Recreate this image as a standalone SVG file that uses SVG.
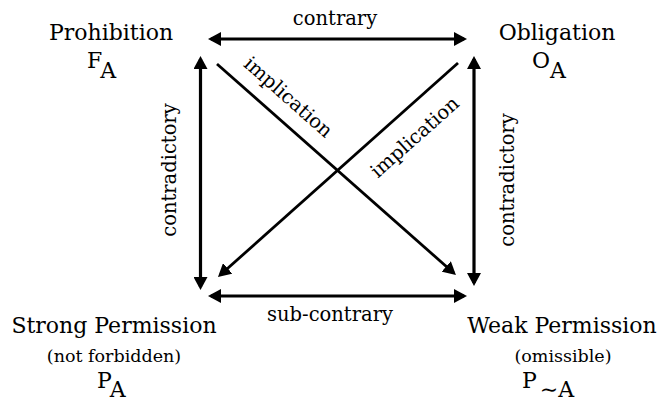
<svg xmlns="http://www.w3.org/2000/svg" width="660" height="400" viewBox="0 0 660 400">
<style>
text{font-family:"DejaVu Serif","Liberation Serif",serif;fill:#000}
.big{font-size:22px}
.mid{font-size:19.5px}
.sm{font-size:17.5px}
.c{stroke:#000;stroke-width:3.2;fill:none}
.d{stroke:#000;stroke-width:2.8;fill:none}
</style>
<defs>
<marker id="ah" viewBox="0 0 13 14" refX="10" refY="7" markerWidth="13" markerHeight="14" markerUnits="userSpaceOnUse" orient="auto-start-reverse"><path d="M0,0L13,7L0,14Z" fill="#000"/></marker>
</defs>
<rect width="660" height="400" fill="#fff"/>
<g id="connectors">
<line class="c" x1="211" y1="39" x2="464" y2="39" marker-start="url(#ah)" marker-end="url(#ah)"/>
<line class="c" x1="211" y1="296" x2="464" y2="296" marker-start="url(#ah)" marker-end="url(#ah)"/>
<line class="c" x1="200.5" y1="59" x2="200.5" y2="287" marker-start="url(#ah)" marker-end="url(#ah)"/>
<line class="c" x1="474" y1="59" x2="474" y2="283" marker-start="url(#ah)" marker-end="url(#ah)"/>
<line class="d" x1="217" y1="64" x2="453.7" y2="273" marker-end="url(#ah)"/>
<line class="d" x1="458" y1="63" x2="220.2" y2="275" marker-end="url(#ah)"/>
<text class="mid" x="335" y="25" text-anchor="middle">contrary</text>
<text class="mid" x="330" y="320.5" text-anchor="middle">sub-contrary</text>
<text class="mid" transform="translate(176,170) rotate(-90)" text-anchor="middle">contradictory</text>
<text class="mid" transform="translate(514,180) rotate(-90)" text-anchor="middle">contradictory</text>
<text class="mid" transform="translate(284,102) rotate(41.4)" text-anchor="middle">implication</text>
<text class="mid" transform="translate(419,142) rotate(-41.6)" text-anchor="middle">implication</text>
</g>
<g id="prohibition">
<text class="big" x="111" y="40" text-anchor="middle">Prohibition</text>
<text class="big" x="87" y="68">F<tspan dy="10">A</tspan></text>
</g>
<g id="obligation">
<text class="big" x="557" y="40" text-anchor="middle">Obligation</text>
<text class="big" x="532" y="68">O<tspan dy="10">A</tspan></text>
</g>
<g id="strong-permission">
<text class="big" x="114" y="333" text-anchor="middle">Strong Permission</text>
<text class="sm" x="114" y="362" text-anchor="middle">(not forbidden)</text>
<text class="big" x="97" y="388">P<tspan dy="9">A</tspan></text>
</g>
<g id="weak-permission">
<text class="big" x="562" y="333" text-anchor="middle">Weak Permission</text>
<text class="sm" x="563" y="362" text-anchor="middle">(omissible)</text>
<text class="big" x="522" y="388">P<tspan dx="3" dy="9">∼A</tspan></text>
</g>
</svg>
